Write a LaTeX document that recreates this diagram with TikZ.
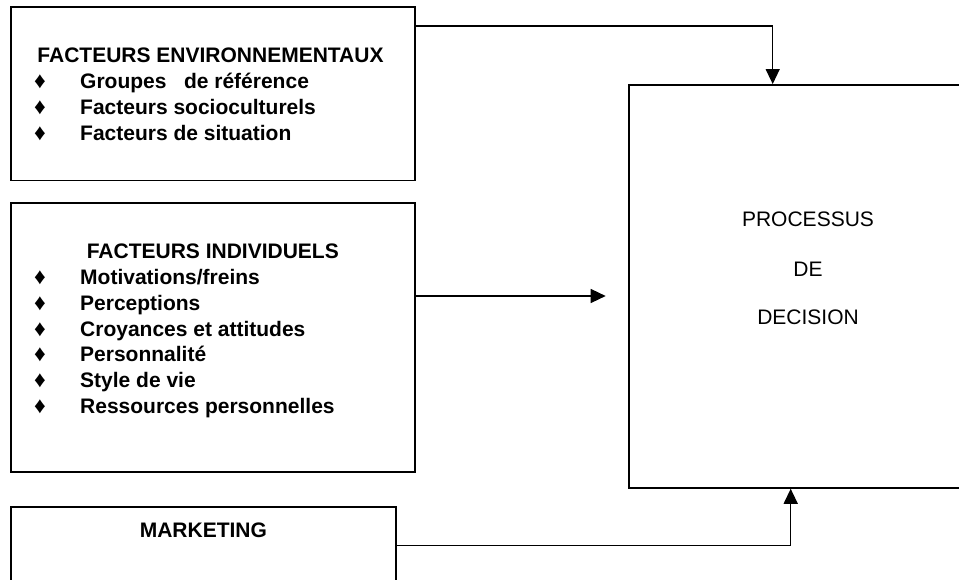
\documentclass[tikz,border=0pt]{standalone}
\usepackage{fontspec}
\setmainfont{Liberation Sans}
\usetikzlibrary{arrows.meta}
\begin{document}
\begin{tikzpicture}[x=1pt,y=-1pt,
  box/.style={draw, line width=1.6pt, inner sep=0pt, outer sep=0pt},
  conn/.style={line width=1.3pt, -{Triangle[length=15pt,width=14pt]}},
  hdr/.style={font=\fontsize{21pt}{25pt}\selectfont\bfseries, anchor=base, inner sep=0pt},
  itemtxt/.style={font=\fontsize{21pt}{25pt}\selectfont\bfseries, anchor=base west, inner sep=0pt},
  bul/.style={font=\fontsize{23pt}{26pt}\selectfont, anchor=base, inner sep=0pt},
  proctxt/.style={font=\fontsize{21pt}{25pt}\selectfont, anchor=base, inner sep=0pt}]
\useasboundingbox (0,0) rectangle (959,580);
\clip (0,0) rectangle (959,580);
% boxes
\node[box, minimum width=403.7pt, minimum height=173.4pt] (env) at (212.9,94) {};
\node[box, minimum width=403.7pt, minimum height=268.4pt] (indiv) at (212.9,337.5) {};
\node[box, minimum width=384.7pt, minimum height=93pt] (mkt) at (203.4,553.5) {};
\node[box, line width=1.9pt, minimum width=358.6pt, minimum height=402.7pt] (proc) at (808,286.4) {};
% box 1 text
\node[hdr] (envh) at (210.5,62.7) {FACTEURS ENVIRONNEMENTAUX};
\foreach \t [count=\i] in {Groupes~~~de référence, Facteurs socioculturels, Facteurs de situation}{
  \node[bul] (eb\i) at (40,{62.7+25.9*\i}) {♦};
  \node[itemtxt] (e\i) at (80,{62.7+25.9*\i}) {\t};
}
% box 2 text
\node[hdr] (indivh) at (212.8,258.3) {FACTEURS INDIVIDUELS};
\foreach \t [count=\i] in {Motivations/freins, Perceptions, Croyances et attitudes, Personnalité, Style de vie, Ressources personnelles}{
  \node[bul] (ib\i) at (40,{258.3+25.9*\i}) {♦};
  \node[itemtxt] (i\i) at (80,{258.3+25.9*\i}) {\t};
}
% marketing
\node[hdr] (mkth) at (203.4,537.7) {MARKETING};
% process
\node[proctxt] (p1) at (808,226.8) {PROCESSUS};
\node[proctxt] (p2) at (808,276.8) {DE};
\node[proctxt] (p3) at (808,324.8) {DECISION};
% connectors
\coordinate (t1) at (772.7,26);
\coordinate (t2) at (605.7,296);
\coordinate (t3) at (790.7,545.7);
\draw[conn] (env.east |- t1) -| ([yshift=1pt]t1 |- proc.north);
\draw[conn] (indiv.east |- t2) -- (t2);
\draw[conn] (mkt.east |- t3) -| ([yshift=-1pt]t3 |- proc.south);
\end{tikzpicture}
\end{document}
